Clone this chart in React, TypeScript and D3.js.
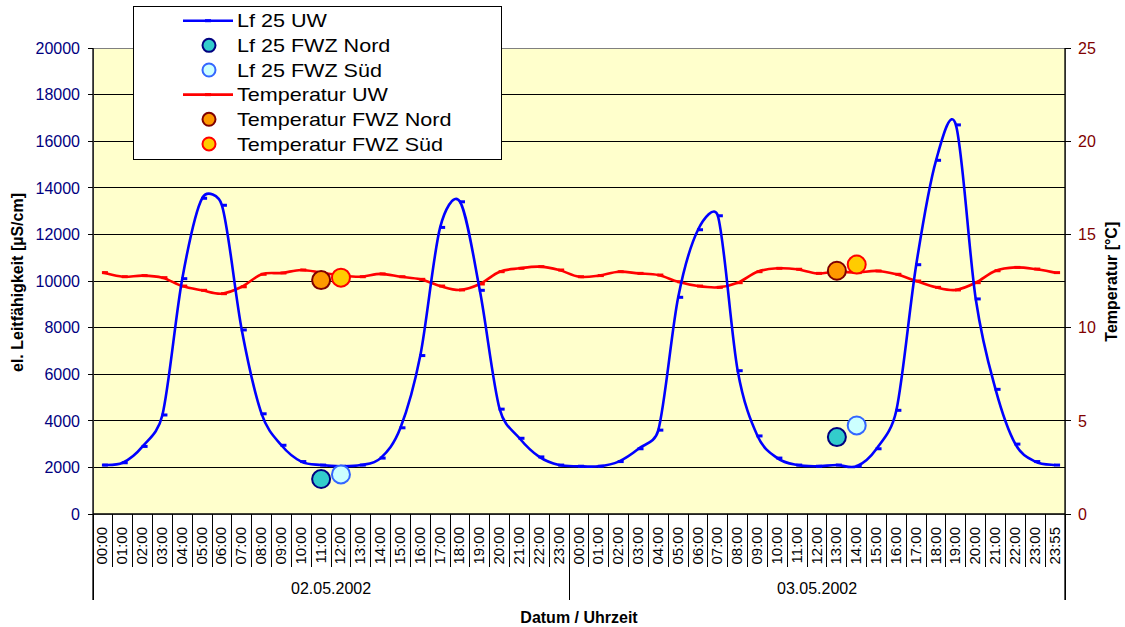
import React from "react";
import * as d3 from "d3";

const day1Times = ["00:00","01:00","02:00","03:00","04:00","05:00","06:00","07:00","08:00","09:00","10:00","11:00","12:00","13:00","14:00","15:00","16:00","17:00","18:00","19:00","20:00","21:00","22:00","23:00"];
const day2Times = ["00:00","01:00","02:00","03:00","04:00","05:00","06:00","07:00","08:00","09:00","10:00","11:00","12:00","13:00","14:00","15:00","16:00","17:00","18:00","19:00","20:00","21:00","22:00","23:00","23:55"];
const dates = ["02.05.2002", "03.05.2002"];

const lfUW = [2100,2200,2900,4250,10100,13550,13250,7900,4300,2950,2250,2100,2050,2100,2400,3700,6800,12300,13400,9600,4500,3250,2450,2100,
  2050,2050,2250,2800,3600,9300,12200,12800,6150,3350,2400,2100,2050,2100,2050,2800,4450,10700,15180,16700,9230,5350,3000,2250,2100];
const tempUW = [12.95,12.73,12.79,12.68,12.23,12.0,11.82,12.19,12.86,12.93,13.09,12.95,12.8,12.73,12.88,12.73,12.59,12.23,12.02,12.34,13.0,13.18,13.27,13.09,
  12.73,12.79,13.0,12.91,12.82,12.46,12.23,12.16,12.41,13.0,13.18,13.13,12.91,13.0,12.95,13.04,12.86,12.5,12.16,12.02,12.41,13.05,13.23,13.14,12.95];

// FWZ samples: [category index, value]
const lfNord = [[11, 1500], [37, 3300]];
const lfSued = [[12, 1700], [38, 3800]];
const tempNord = [[11, 12.55], [37, 13.05]];
const tempSued = [[12, 12.68], [38, 13.38]];

const leftTicks = [0,2000,4000,6000,8000,10000,12000,14000,16000,18000,20000];
const rightTicks = [0,5,10,15,20,25];

const legendItems = [
  { label: "Lf 25 UW", kind: "line", color: "#0000FF" },
  { label: "Lf 25 FWZ Nord", kind: "dot", fill: "#33CCCC", stroke: "#000080" },
  { label: "Lf 25 FWZ Süd", kind: "dot", fill: "#CCFFFF", stroke: "#3366FF" },
  { label: "Temperatur UW", kind: "line", color: "#FF0000" },
  { label: "Temperatur FWZ Nord", kind: "dot", fill: "#FF9900", stroke: "#800000" },
  { label: "Temperatur FWZ Süd", kind: "dot", fill: "#FFCC00", stroke: "#FF0000" },
];

const FONT = "'Liberation Sans', Arial, Helvetica, sans-serif";

// Excel-style smoothed line: Bezier handles = (P2-P0)/6, capped at half segment length
function excelSmooth(pts: [number, number][]): string {
  const p = d3.path();
  const n = pts.length;
  if (!n) return "";
  p.moveTo(pts[0][0], pts[0][1]);
  const dist = (a: [number, number], b: [number, number]) => Math.hypot(b[0] - a[0], b[1] - a[1]);
  for (let i = 0; i < n - 1; i++) {
    const P0 = pts[i > 0 ? i - 1 : i];
    const P1 = pts[i];
    const P2 = pts[i + 1];
    const P3 = pts[i + 2 < n ? i + 2 : i + 1];
    const d12 = dist(P1, P2);
    const d02 = dist(P0, P2);
    const d13 = dist(P1, P3);
    let f1 = 1 / 6, f2 = 1 / 6;
    if (d02 / 6 > d12 / 2 && d02 > 0) f1 = d12 / 2 / d02;
    if (d13 / 6 > d12 / 2 && d13 > 0) f2 = d12 / 2 / d13;
    const c1x = P1[0] + (P2[0] - P0[0]) * f1;
    const c1y = P1[1] + (P2[1] - P0[1]) * f1;
    const c2x = P2[0] - (P3[0] - P1[0]) * f2;
    const c2y = P2[1] - (P3[1] - P1[1]) * f2;
    p.bezierCurveTo(c1x, c1y, c2x, c2y, P2[0], P2[1]);
  }
  return p.toString();
}

export default function App() {
  const W = 1125, H = 627;
  const left = 93, right = 1065, top = 48, bottom = 514;
  const cats = [...day1Times, ...day2Times];
  const idx = cats.map((_, i) => i);
  const x = d3.scaleBand<number>().domain(idx).range([left, right]).paddingInner(0).paddingOuter(0);
  const bw = x.bandwidth();
  const cx = (i: number) => (x(i) as number) + bw / 2;
  const yL = d3.scaleLinear().domain([0, 20000]).range([bottom, top]);
  const yR = d3.scaleLinear().domain([0, 25]).range([bottom, top]);

  const lfPath = excelSmooth(lfUW.map((v, i) => [cx(i), yL(v)] as [number, number]));
  const tPath = excelSmooth(tempUW.map((v, i) => [cx(i), yR(v)] as [number, number]));

  const boundaries = d3.range(cats.length + 1).map((i) => left + i * bw);
  const dayBounds = [0, day1Times.length, cats.length].map((i) => left + i * bw);

  const legX = 133.5, legY = 6.5, legW = 368, legH = 153;
  const rowY0 = 20.7, rowStep = 24.65;

  return (
    <svg width={W} height={H} style={{ position: "absolute", left: 0, top: 0, background: "#fff" }} fontFamily={FONT}>
      <rect x={0} y={0} width={W} height={H} fill="#fff" />
      {/* plot area */}
      <rect x={left} y={top} width={right - left} height={bottom - top} fill="#FFFFCC" />
      {leftTicks.map((t) => (
        <line key={"g" + t} x1={left} x2={right} y1={yL(t)} y2={yL(t)} stroke="#000" strokeWidth={1} shapeRendering="crispEdges" />
      ))}
      <rect x={left} y={top} width={right - left} height={bottom - top} fill="none" stroke="#808080" strokeWidth={1} shapeRendering="crispEdges" />

      {/* series lines */}
      <path d={tPath} fill="none" stroke="#FF0000" strokeWidth={2.6} strokeLinejoin="round" />
      {tempUW.map((v, i) => (
        <rect key={"tm" + i} x={cx(i) - 1} y={yR(v) - 1.5} width={6} height={3} fill="#FF0000" />
      ))}
      <path d={lfPath} fill="none" stroke="#0000FF" strokeWidth={2.6} strokeLinejoin="round" />
      {lfUW.map((v, i) => (
        <rect key={"lm" + i} x={cx(i) - 1} y={yL(v) - 1.5} width={6} height={3} fill="#0000FF" />
      ))}

      {/* FWZ points */}
      {tempNord.map(([i, v]) => (
        <circle key={"tn" + i} cx={cx(i)} cy={yR(v)} r={9} fill="#FF9900" stroke="#800000" strokeWidth={2} />
      ))}
      {tempSued.map(([i, v]) => (
        <circle key={"ts" + i} cx={cx(i)} cy={yR(v)} r={9} fill="#FFCC00" stroke="#FF0000" strokeWidth={2} />
      ))}
      {lfNord.map(([i, v]) => (
        <circle key={"ln" + i} cx={cx(i)} cy={yL(v)} r={9} fill="#33CCCC" stroke="#000080" strokeWidth={2} />
      ))}
      {lfSued.map(([i, v]) => (
        <circle key={"ls" + i} cx={cx(i)} cy={yL(v)} r={9} fill="#CCFFFF" stroke="#3366FF" strokeWidth={2} />
      ))}

      {/* left axis */}
      <line x1={left} x2={left} y1={top} y2={600} stroke="#000" strokeWidth={1.3} />
      {leftTicks.map((t) => (
        <g key={"lt" + t}>
          <line x1={left - 5} x2={left} y1={yL(t)} y2={yL(t)} stroke="#000" strokeWidth={1} shapeRendering="crispEdges" />
          <text x={80} y={yL(t)} dy="0.36em" textAnchor="end" fontSize={16} fill="#000080">{t}</text>
        </g>
      ))}
      <text transform={`translate(23,282.5) rotate(-90)`} textAnchor="middle" fontSize={16} fontWeight="bold" fill="#000">el. Leitfähigkeit [µS/cm]</text>

      {/* right axis */}
      <line x1={right} x2={right} y1={top} y2={600} stroke="#000" strokeWidth={1.3} />
      {rightTicks.map((t) => (
        <g key={"rt" + t}>
          <line x1={right} x2={right + 6} y1={yR(t)} y2={yR(t)} stroke="#000" strokeWidth={1} shapeRendering="crispEdges" />
          <text x={1078} y={yR(t)} dy="0.36em" textAnchor="start" fontSize={16} fill="#800000">{t}</text>
        </g>
      ))}
      <text transform={`translate(1116.5,281.7) rotate(-90)`} textAnchor="middle" fontSize={16} fontWeight="bold" fill="#000">Temperatur [°C]</text>

      {/* bottom axis */}
      <line x1={left} x2={right} y1={bottom} y2={bottom} stroke="#000" strokeWidth={1.3} />
      {boundaries.map((b, i) => (
        <line key={"xb" + i} x1={b} x2={b} y1={bottom} y2={567} stroke="#000" strokeWidth={1} shapeRendering="crispEdges" />
      ))}
      {dayBounds.map((b, i) => (
        <line key={"db" + i} x1={b} x2={b} y1={bottom} y2={600} stroke="#000" strokeWidth={1} shapeRendering="crispEdges" />
      ))}
      {cats.map((c, i) => (
        <text key={"xl" + i} transform={`translate(${cx(i)},527) rotate(-90)`} dy="0.3em" textAnchor="end" fontSize={15} fill="#000">{c}</text>
      ))}
      {dates.map((d, k) => (
        <text key={"d" + k} x={(dayBounds[k] + dayBounds[k + 1]) / 2} y={594} textAnchor="middle" fontSize={16} fill="#000">{d}</text>
      ))}
      <text x={(left + right) / 2} y={623} textAnchor="middle" fontSize={16} fontWeight="bold" fill="#000">Datum / Uhrzeit</text>

      {/* legend */}
      <rect x={legX} y={legY} width={legW} height={legH} fill="#fff" stroke="#000" strokeWidth={1} />
      {legendItems.map((it, k) => {
        const yy = rowY0 + k * rowStep;
        return (
          <g key={"lg" + k}>
            {it.kind === "line" ? (
              <g>
                <line x1={183} x2={233} y1={yy} y2={yy} stroke={it.color} strokeWidth={2.6} />
                <rect x={205} y={yy - 1.5} width={6} height={3} fill={it.color} />
              </g>
            ) : (
              <circle cx={209} cy={yy} r={6.5} fill={it.fill} stroke={it.stroke} strokeWidth={2} />
            )}
            <text transform={`translate(237,${yy}) scale(1.16,1)`} dy="0.36em" fontSize={18.6} fill="#000">{it.label}</text>
          </g>
        );
      })}
    </svg>
  );
}
